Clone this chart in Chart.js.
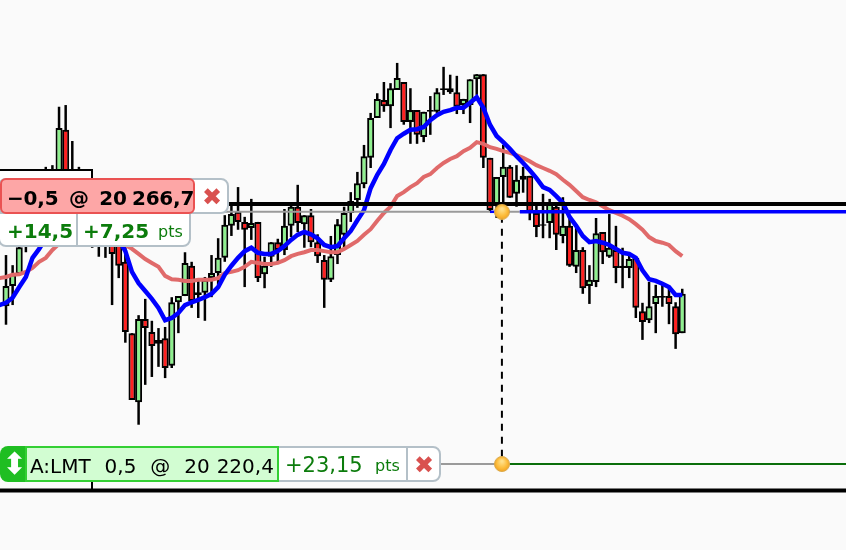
<!DOCTYPE html>
<html>
<head>
<meta charset="utf-8">
<script src="https://cdn.jsdelivr.net/npm/chart.js@4"></script>
<style>
html, body { margin: 0; padding: 0; background: #fafafa; }
#wrap { position: relative; width: 846px; height: 550px; overflow: hidden; }
#chart { position: absolute; left: 0; top: 0; }
.box { position: absolute; box-sizing: border-box; white-space: pre; font-family: "DejaVu Sans", sans-serif; color: #000; }
.green { color: #0c7c0c; }
.cross { color: #d9514f; font-size: 24px; text-align: center; }
</style>
</head>
<body>
<div id="wrap">
  <canvas id="chart" width="846" height="550"></canvas>
  <div class="box" style="left:0;top:169px;width:93px;height:20px;background:#fff;border-top:2px solid #000;border-right:2px solid #000"></div>
  <div class="box" style="left:91px;top:482px;width:2px;height:8px;background:#000"></div>

  <div class="box" style="left:-2px;top:212px;width:193px;height:35px;background:#fff;border:2px solid #b4c0c8;border-radius:0 0 8px 8px"></div>
  <div class="box" style="left:76px;top:213px;width:2px;height:33px;background:#b4c0c8"></div>
  <div class="box green" style="left:7px;top:219px;font-size:20px;font-weight:bold" id="pnlA"></div>
  <div class="box green" style="left:83px;top:219px;font-size:20px;font-weight:bold" id="pnlB"></div>
  <div class="box green" style="left:158px;top:222px;font-size:16px" id="unitA"></div>

  <div class="box" style="left:-2px;top:178px;width:231px;height:36px;background:#fff;border:2px solid #b4c0c8;border-radius:8px"></div>
  <div class="box cross" style="left:197px;top:183px;width:30px" id="crossA"></div>
  <div class="box" style="left:0;top:178px;width:195px;height:36px;background:#fda6a6;border:2px solid #ea5252;border-radius:6px;font-size:20px;font-weight:bold;letter-spacing:-0.2px;word-spacing:-1.5px;padding:6px 0 0 5px" id="sellLabel"></div>

  <div class="box" style="left:270px;top:446px;width:171px;height:36px;background:#fff;border:2px solid #b4c0c8;border-radius:0 8px 8px 0"></div>
  <div class="box" style="left:406px;top:447px;width:2px;height:34px;background:#b4c0c8"></div>
  <div class="box green" style="left:285px;top:453px;font-size:21px" id="pnlC"></div>
  <div class="box green" style="left:375px;top:456px;font-size:16px" id="unitB"></div>
  <div class="box cross" style="left:409px;top:451px;width:30px" id="crossB"></div>
  <div class="box" style="left:0;top:446px;width:30px;height:36px;background:#1fbe22;border-radius:8px 0 0 8px;color:#fff;font-size:30px;line-height:36px;padding:0 0 0 2px" id="moveIcon"></div>
  <div class="box" style="left:25px;top:446px;width:254px;height:36px;background:#d2fdd2;border:2px solid #33cf33;font-size:20px;word-spacing:0.6px;padding:6px 0 0 3px" id="buyLabel"></div>
</div>

<script>
var opens = [20248.5,20252.1,20254.2,20260.3,20262.4,20264.7,20266.5,20269.2,20267.4,20279.9,20271.0,20268.3,20267.4,20263.0,20265.6,20261.2,20264.7,20261.2,20256.4,20243.7,20231.4,20246.2,20243.9,20241.8,20242.8,20237.9,20249.2,20250.3,20255.7,20250.5,20250.9,20253.5,20254.4,20257.1,20262.8,20265.3,20263.5,20262.4,20263.5,20254.2,20257.3,20259.9,20258.5,20262.8,20266.2,20263.1,20264.7,20259.9,20256.7,20253.2,20257.6,20261.2,20265.1,20267.4,20270.2,20274.9,20282.0,20285.2,20284.1,20287.0,20288.4,20281.3,20283.4,20278.6,20283.1,20283.1,20287.3,20287.3,20286.6,20284.3,20284.3,20288.9,20289.8,20274.9,20266.5,20271.5,20273.3,20268.5,20271.0,20271.7,20265.1,20263.1,20263.3,20266.2,20261.0,20262.8,20255.5,20258.5,20252.1,20252.8,20261.7,20257.3,20258.5,20255.7,20255.3,20257.1,20247.6,20246.0,20248.9,20250.3,20250.3,20248.5,20243.7];
var highs = [20257.6,20255.8,20260.3,20264.7,20266.5,20268.3,20273.3,20273.6,20284.0,20284.3,20277.9,20273.3,20270.1,20269.2,20268.3,20267.4,20266.5,20263.0,20261.2,20243.7,20246.9,20249.8,20245.9,20244.6,20244.8,20250.1,20250.3,20258.1,20256.4,20253.2,20253.7,20257.6,20260.6,20264.7,20266.5,20269.7,20264.4,20267.6,20263.5,20257.3,20259.9,20260.5,20265.8,20266.9,20270.1,20264.7,20265.8,20261.3,20257.6,20261.0,20264.0,20266.2,20268.8,20272.4,20277.2,20282.9,20286.4,20288.4,20288.2,20291.8,20288.4,20287.3,20283.4,20283.1,20285.9,20287.3,20291.1,20289.7,20289.5,20285.4,20288.9,20289.8,20289.8,20274.9,20271.5,20277.2,20273.6,20273.6,20273.3,20271.7,20267.0,20268.5,20267.6,20267.0,20267.9,20264.2,20263.0,20259.0,20255.8,20264.2,20261.7,20264.9,20262.8,20258.9,20258.0,20257.3,20249.1,20252.8,20252.3,20252.6,20251.9,20249.2,20251.6];
var lows = [20245.2,20248.7,20253.9,20258.1,20260.3,20262.1,20263.0,20264.7,20265.6,20266.5,20265.6,20263.0,20261.2,20258.9,20257.3,20257.1,20248.7,20253.5,20242.0,20231.8,20227.4,20234.5,20235.9,20237.7,20235.7,20237.5,20243.7,20250.3,20248.2,20246.4,20245.9,20250.1,20252.3,20256.4,20261.0,20262.1,20251.9,20260.3,20252.8,20251.7,20255.5,20256.2,20257.6,20260.8,20261.7,20258.9,20259.0,20256.2,20248.2,20252.8,20256.0,20258.5,20263.5,20266.0,20269.5,20273.1,20282.0,20283.1,20280.2,20287.0,20280.8,20277.4,20277.4,20277.7,20279.0,20282.9,20286.1,20286.3,20282.7,20282.7,20281.1,20286.1,20273.1,20265.3,20264.2,20265.6,20267.8,20266.2,20268.7,20263.8,20260.8,20260.6,20260.6,20258.5,20259.7,20255.5,20254.4,20250.7,20248.9,20251.9,20256.0,20257.1,20252.6,20251.7,20253.5,20246.4,20242.5,20245.5,20243.7,20248.4,20245.3,20240.9,20243.7];
var closes = [20252.1,20254.2,20259.0,20262.4,20264.7,20266.5,20269.2,20267.4,20280.2,20269.2,20268.3,20265.6,20264.7,20266.5,20262.1,20264.7,20257.8,20255.7,20243.9,20231.8,20246.2,20244.6,20241.4,20242.5,20237.5,20249.2,20250.3,20256.2,20249.4,20251.0,20253.2,20254.4,20257.1,20263.0,20264.9,20263.5,20262.1,20263.3,20253.5,20255.7,20259.9,20258.5,20262.8,20266.2,20263.3,20264.7,20259.9,20257.4,20253.2,20257.4,20263.1,20265.1,20267.2,20270.4,20275.2,20282.0,20285.4,20284.1,20287.3,20289.1,20281.3,20283.4,20279.0,20283.1,20283.4,20286.6,20287.0,20286.6,20284.0,20285.4,20288.9,20289.8,20274.9,20265.6,20271.5,20273.3,20267.8,20271.0,20271.7,20265.3,20262.6,20262.8,20266.9,20261.2,20262.8,20255.7,20258.5,20251.7,20253.2,20261.5,20258.1,20258.9,20255.3,20255.3,20256.9,20248.2,20245.7,20248.5,20250.3,20250.0,20248.9,20243.5,20250.7];

// moving averages start one bar before the first candle
var blueAvg = [20248.7,20249.1,20250.0,20251.9,20253.7,20257.1,20258.7,20260.6,20261.7,20263.0,20263.8,20264.6,20265.1,20265.3,20264.9,20264.6,20263.5,20261.7,20260.3,20258.3,20254.6,20252.6,20251.2,20249.8,20248.2,20246.0,20246.4,20247.3,20248.7,20249.2,20249.6,20250.1,20250.7,20251.9,20254.1,20255.7,20257.1,20258.3,20258.9,20258.0,20257.8,20257.8,20258.3,20259.2,20260.3,20261.2,20261.7,20261.3,20260.6,20259.4,20259.0,20259.2,20260.6,20261.9,20263.8,20265.6,20269.5,20271.9,20273.8,20276.3,20278.4,20279.2,20279.9,20280.0,20280.4,20281.6,20282.5,20283.1,20283.4,20283.8,20283.8,20284.7,20285.7,20283.8,20280.8,20278.8,20277.7,20276.5,20275.2,20274.0,20272.7,20271.3,20269.7,20269.2,20268.1,20266.9,20264.4,20262.8,20261.0,20259.9,20260.1,20259.8,20259.4,20258.7,20258.0,20257.8,20257.1,20254.9,20253.3,20253.0,20252.5,20251.9,20250.5,20250.5];
var redAvg = [20253.5,20253.7,20254.1,20254.2,20254.6,20255.3,20256.4,20257.1,20258.5,20259.6,20260.6,20261.2,20261.7,20262.1,20262.1,20261.7,20261.3,20260.6,20259.9,20259.4,20258.7,20257.8,20256.9,20256.2,20255.5,20253.9,20253.3,20253.2,20253.0,20253.0,20253.2,20253.2,20253.2,20253.5,20254.4,20254.6,20254.9,20255.5,20256.4,20256.2,20256.0,20256.0,20256.2,20256.7,20257.4,20257.8,20258.1,20258.5,20258.5,20258.3,20258.1,20258.1,20258.7,20259.4,20260.1,20261.2,20262.2,20263.7,20265.1,20266.2,20268.1,20268.8,20269.7,20270.4,20271.5,20272.0,20273.1,20274.0,20274.7,20275.2,20276.1,20276.7,20277.7,20277.4,20276.8,20276.5,20276.1,20275.8,20275.4,20274.9,20274.3,20273.6,20273.1,20272.6,20272.0,20271.0,20270.1,20269.0,20267.9,20267.4,20267.0,20266.3,20265.6,20265.1,20264.6,20264.0,20263.1,20262.1,20260.8,20260.1,20259.8,20259.4,20258.3,20257.4];

var sellPrice = 20266.7;
var stopPrice = 20265.3;
var buyPrice = 20220.4;
var floorPrice = 20215.7;
var fillBar = 74.8;

var sellText = "\u22120,5  @  20 266,7";
var buyText = "A:LMT  0,5  @  20 220,4";
var pnlTexts = ["+14,5", "+7,25", "+23,15"];
var unitText = "pts";
var crossText = "\u2716";
var moveText = "\u2B0D";

var xMin = -0.905;
var xMax = 126.7;
var yMin = 20205.1;
var yMax = 20303;

document.getElementById("sellLabel").textContent = sellText;
document.getElementById("buyLabel").textContent = buyText;
document.getElementById("pnlA").textContent = pnlTexts[0];
document.getElementById("pnlB").textContent = pnlTexts[1];
document.getElementById("pnlC").textContent = pnlTexts[2];
document.getElementById("unitA").textContent = unitText;
document.getElementById("unitB").textContent = unitText;
document.getElementById("crossA").textContent = crossText;
document.getElementById("crossB").textContent = crossText;
document.getElementById("moveIcon").textContent = moveText;

function makeMarker(){
    var c = document.createElement("canvas");
    c.width = 16;
    c.height = 16;
    var g = c.getContext("2d");
    var grad = g.createRadialGradient(8, 5, 1, 8, 8, 8);
    grad.addColorStop(0, "#ffe08a");
    grad.addColorStop(0.6, "#fdbd3c");
    grad.addColorStop(1, "#f0a020");
    g.fillStyle = grad;
    g.beginPath();
    g.arc(8, 8, 7.5, 0, Math.PI * 2);
    g.fill();
    g.strokeStyle = "#d9a94a";
    g.lineWidth = 1;
    g.stroke();
    return c;
}

var wicks = new Array();
var bodies = new Array();
var bodyColors = new Array();
for (var i = 0; i < opens.length; i++){
    wicks.push({x: i, y: [lows[i], highs[i]]});
    bodies.push({x: i, y: [opens[i], closes[i]]});
    bodyColors.push(closes[i] >= opens[i] ? "#8ff08f" : "#ff2020");
}

function avgPoints(values){
    var pts = new Array();
    for (var i = 0; i < values.length; i++){
        pts.push({x: i - 1, y: values[i]});
    }
    return pts;
}

function lineSet(data, color, width, order){
    return {type: "line", data: data, borderColor: color, borderWidth: width, pointRadius: 0, order: order, tension: 0, spanGaps: false};
}

var marker = makeMarker();
var dashed = lineSet([{x: fillBar, y: 20264.6}, {x: fillBar, y: 20221.5}], "#000", 2, 3);
dashed.borderDash = [7, 6];

var ctx = document.getElementById("chart").getContext("2d");
var chart = new Chart(ctx, {
    data: {
        datasets: [
            {type: "bar", data: wicks, backgroundColor: "#000", barThickness: 2.5, grouped: false, inflateAmount: 0, order: 20},
            {type: "bar", data: bodies, backgroundColor: bodyColors, borderColor: "#000", borderWidth: 2, borderSkipped: false, barThickness: 7, grouped: false, inflateAmount: 0, order: 19},
            lineSet(avgPoints(redAvg), "#e06a6a", 4, 12),
            lineSet(avgPoints(blueAvg), "#0000ff", 4.5, 11),
            lineSet([{x: xMin, y: stopPrice}, {x: 73, y: stopPrice}, {x: 75, y: null}, {x: 76, y: stopPrice}, {x: 77.5, y: stopPrice}], "#9a9a9a", 2, 8),
            lineSet([{x: 73, y: stopPrice}, {x: 76, y: stopPrice}], "#0000ff", 2.5, 9),
            lineSet([{x: 77.5, y: stopPrice}, {x: xMax, y: stopPrice}], "#0000ff", 3.5, 7),
            lineSet([{x: xMin, y: sellPrice}, {x: xMax, y: sellPrice}], "#000", 4, 6),
            lineSet([{x: 65.5, y: buyPrice}, {x: 76, y: buyPrice}], "#9a9a9a", 2, 5),
            lineSet([{x: 76, y: buyPrice}, {x: xMax, y: buyPrice}], "#0a6e0a", 2, 4),
            lineSet([{x: xMin, y: floorPrice}, {x: xMax, y: floorPrice}], "#000", 4, 4),
            dashed,
            {type: "line", data: [{x: fillBar, y: stopPrice}, {x: fillBar, y: buyPrice}], showLine: false, pointStyle: marker, pointRadius: 8, order: 1}
        ]
    },
    options: {
        responsive: false,
        animation: false,
        events: [],
        layout: {padding: 0, autoPadding: false},
        plugins: {legend: {display: false}, tooltip: {enabled: false}},
        scales: {
            x: {type: "linear", min: xMin, max: xMax, display: false, offset: false},
            y: {type: "linear", min: yMin, max: yMax, display: false}
        }
    }
});
</script>
</body>
</html>
